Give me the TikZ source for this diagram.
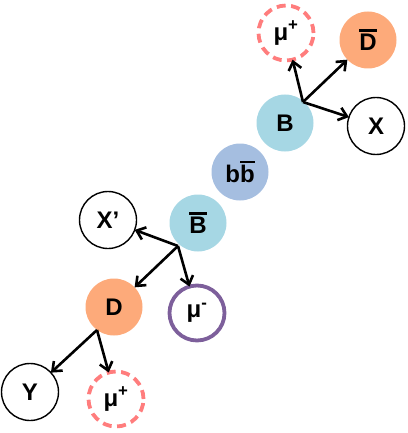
\documentclass[tikz,border=0pt]{standalone}
\usepackage{fontspec}
\setmainfont{Liberation Sans}
\usetikzlibrary{arrows.meta}

\definecolor{mesonB}{RGB}{166,215,228}
\definecolor{quarkbb}{RGB}{165,190,224}
\definecolor{mesonD}{RGB}{253,170,122}
\definecolor{muonplus}{RGB}{255,125,125}
\definecolor{muonminus}{RGB}{125,95,155}

% thick bar over an antiparticle letter
\newcommand{\barred}[1]{\leavevmode\vbox{\hrule height 2.4pt\kern 2.4pt\hbox{#1}}}

\begin{document}
\begin{tikzpicture}[x=1pt,y=-1pt,
  part/.style={circle,minimum size=57pt,inner sep=0pt,outer sep=0pt,
    font=\fontsize{24}{26}\selectfont\bfseries},
  other/.style={part,draw=black,line width=1.4pt},
  mup/.style={part,draw=muonplus,dash pattern=on 9pt off 5.5pt,line width=3.8pt,minimum size=55pt},
  mum/.style={part,draw=muonminus,line width=3.8pt,minimum size=55pt},
  arr/.style={-{Straight Barb[length=8pt,width=13pt]},line width=2.6pt}]

\useasboundingbox (0,0) rectangle (407,433);

% B side
\node[mup] (mua) at (286,33) {μ\textsuperscript{+}};
\node[part,fill=mesonD] (Dbar) at (368,40) {\barred{D}};
\node[part,fill=mesonB] (B) at (285,123) {B};
\node[other] (X) at (376,126) {X};

\node[part,fill=quarkbb] (bb) at (240,172) {b\barred{b}};

% Bbar side
\node[part,fill=mesonB] (Bbar) at (198,223) {\barred{B}};
\node[other] (Xp) at (108,220) {X’};
\node[part,fill=mesonD] (D) at (114,307) {D};
\node[mum] (mum) at (197,313) {μ\textsuperscript{-}};
\node[other] (Y) at (30,392) {Y};
\node[mup] (mub) at (116,399) {μ\textsuperscript{+}};

\coordinate (Bo) at (303,102);
\coordinate (Bbaro) at (178,246);
\coordinate (Do) at (97,330);

\draw[arr] (Bo) -- (mua);
\draw[arr] (Bo) -- (Dbar);
\draw[arr] (Bo) -- (X);

\draw[arr] (Bbaro) -- (Xp);
\draw[arr] (Bbaro) -- (D);
\draw[arr] (Bbaro) -- (mum);

\draw[arr] (Do) -- (Y);
\draw[arr] (Do) -- (mub);

\end{tikzpicture}
\end{document}
